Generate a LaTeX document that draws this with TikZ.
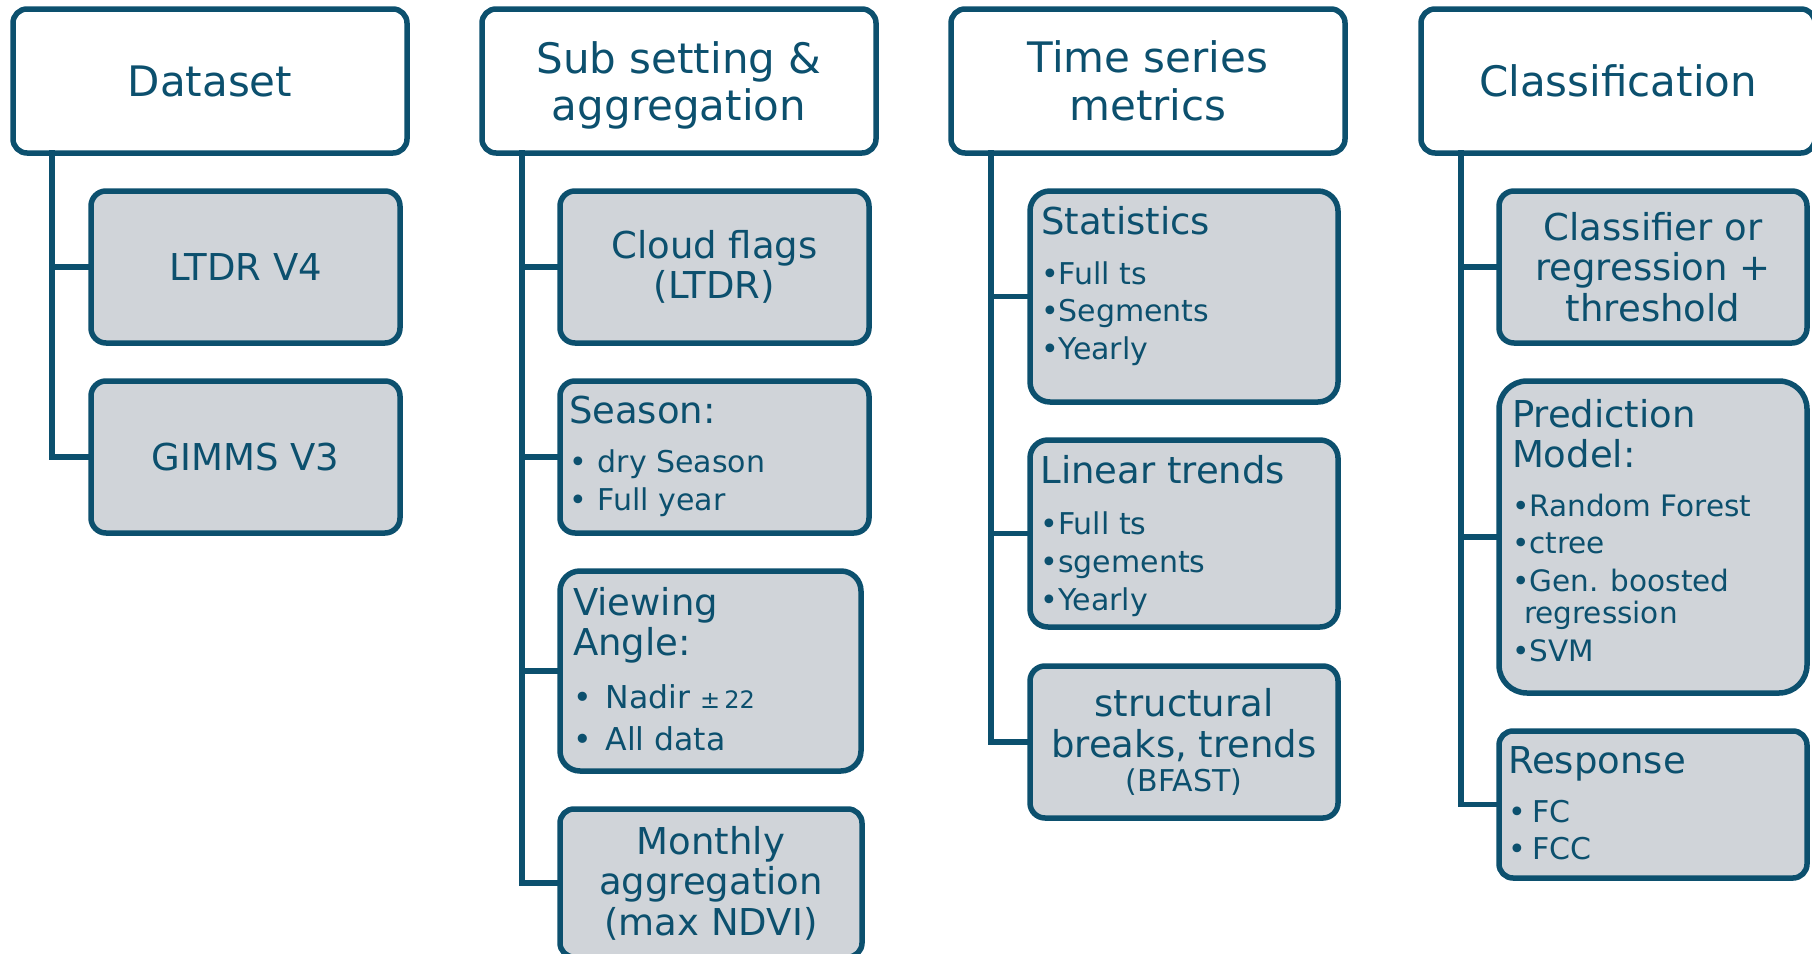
\documentclass[tikz,border=0pt]{standalone}
\usepackage{fontspec}
\setmainfont{DejaVu Sans}
\definecolor{tc}{RGB}{12,80,110}
\definecolor{gc}{RGB}{208,212,217}
\newcommand{\tbx}[4]{\parbox[t][#2][t]{#1}{\raggedright\leftskip=#3\relax\parskip=0pt\relax #4}}
\newcommand{\ttl}{\fontsize{37}{40.5}\selectfont}
\tikzset{
  hdr/.style={draw=tc, line width=5.5pt, outer sep=0pt, fill=white, rounded corners=14pt,
    minimum width=394pt, minimum height=144pt, anchor=north west, inner sep=0pt,
    align=center, text=tc, font=\fontsize{42}{47.4}\selectfont},
  sub/.style={draw=tc, line width=5.5pt, outer sep=0pt, fill=gc, anchor=north west,
    inner sep=0pt, text=tc, align=center, font=\ttl},
  conn/.style={draw=tc, line width=5.5pt}
}
\begin{document}
\begin{tikzpicture}[x=1pt,y=-1pt]
\useasboundingbox (0,0) rectangle (1812,953);
% headers
\node[hdr] (h1) at (13,9) {Dataset};
\node[hdr] (h2) at (482,9) {Sub setting \&\\\raisebox{0pt}[\height][0pt]{aggregation}};
\node[hdr] (h3) at (951,9) {Time series\\metrics};
\node[hdr] (h4) at (1421,9) {Classification};
% spine tops
\coordinate (s1) at (52,150);
\coordinate (s2) at (522,150);
\coordinate (s3) at (991,150);
\coordinate (s4) at (1461,150);
% column 1
\node[sub, rounded corners=15pt, minimum width=309pt, minimum height=152pt] (ltdr) at (91,191) {LTDR V4};
\node[sub, rounded corners=15pt, minimum width=309pt, minimum height=152pt] (gimms) at (91,381) {GIMMS V3};
% column 2
\node[sub, rounded corners=15pt, minimum width=309pt, minimum height=152pt] (cloud) at (560,191) {Cloud flags\\(LTDR)};
\node[sub, rounded corners=15pt] (season) at (560,381) {\tbx{309pt}{152pt}{9pt}{%
  {\ttl\rule{0pt}{42pt}Season:\par}\vspace{11.5pt}%
  {\fontsize{30}{38}\selectfont •\hspace{11pt}dry Season\par •\hspace{11pt}Full year\par}}};
\node[sub, rounded corners=20pt] (view) at (560,571) {\tbx{301pt}{200pt}{13pt}{%
  {\ttl\rule{0pt}{44pt}Viewing\par Angle:\par}\vspace{11.4pt}%
  {\fontsize{31.5}{41.6}\selectfont •\hspace{14pt}Nadir {\fontsize{24}{28}\selectfont ±\,22}\par
   •\hspace{14pt}All data\par}}};
\node[sub, rounded corners=14pt, minimum width=302pt, minimum height=148pt] (month) at (560,809) {Monthly\\aggregation\\(max NDVI)};
% column 3
\node[sub, rounded corners=20pt] (stats) at (1030,191) {\tbx{308pt}{211pt}{11pt}{%
  {\ttl\rule{0pt}{43pt}Statistics\par}\vspace{12.4pt}%
  {\fontsize{30}{37.6}\selectfont •Full ts\par •Segments\par •Yearly\par}}};
\node[sub, rounded corners=18pt] (lin) at (1030,440) {\tbx{308pt}{187pt}{10.5pt}{%
  {\ttl\rule{0pt}{43.5pt}Linear trends\par}\vspace{12.5pt}%
  {\fontsize{30}{38}\selectfont •Full ts\par •sgements\par •Yearly\par}}};
\node[sub, rounded corners=15pt, minimum width=308pt, minimum height=152pt] (struct) at (1030,666)
  {structural\\breaks, trends\\[-6.5pt]{\fontsize{30}{33}\selectfont (BFAST)}};
% column 4
\node[sub, rounded corners=15pt, minimum width=308pt, minimum height=152pt] (clf) at (1499,191) {Classifier or\\regression +\\threshold};
\node[sub, rounded corners=28pt] (pred) at (1499,381) {\tbx{308pt}{312pt}{13pt}{%
  {\ttl\rule{0pt}{46pt}Prediction\par Model:\par}\vspace{11pt}%
  {\fontsize{29.5}{37.5}\selectfont •Random Forest\par •ctree\par •Gen. boosted\par\vspace{-5pt}%
   \hspace*{12pt}regression\par •SVM\par}}};
\node[sub, rounded corners=14pt] (resp) at (1499,731) {\tbx{308pt}{147pt}{9pt}{%
  {\ttl\rule{0pt}{42.6pt}Response\par}\vspace{12pt}%
  {\fontsize{30}{37}\selectfont •\hspace{7pt}FC\par •\hspace{7pt}FCC\par}}};
% connectors
\draw[conn] (s1) |- (ltdr.west);
\draw[conn] (s1) |- (gimms.west);
\draw[conn] (s2) |- (cloud.west);
\draw[conn] (s2) |- (season.west);
\draw[conn] (s2) |- (view.west);
\draw[conn] (s2) |- (month.west);
\draw[conn] (s3) |- (stats.west);
\draw[conn] (s3) |- (lin.west);
\draw[conn] (s3) |- (struct.west);
\draw[conn] (s4) |- (clf.west);
\draw[conn] (s4) |- (pred.west);
\draw[conn] (s4) |- (resp.west);
\end{tikzpicture}
\end{document}
